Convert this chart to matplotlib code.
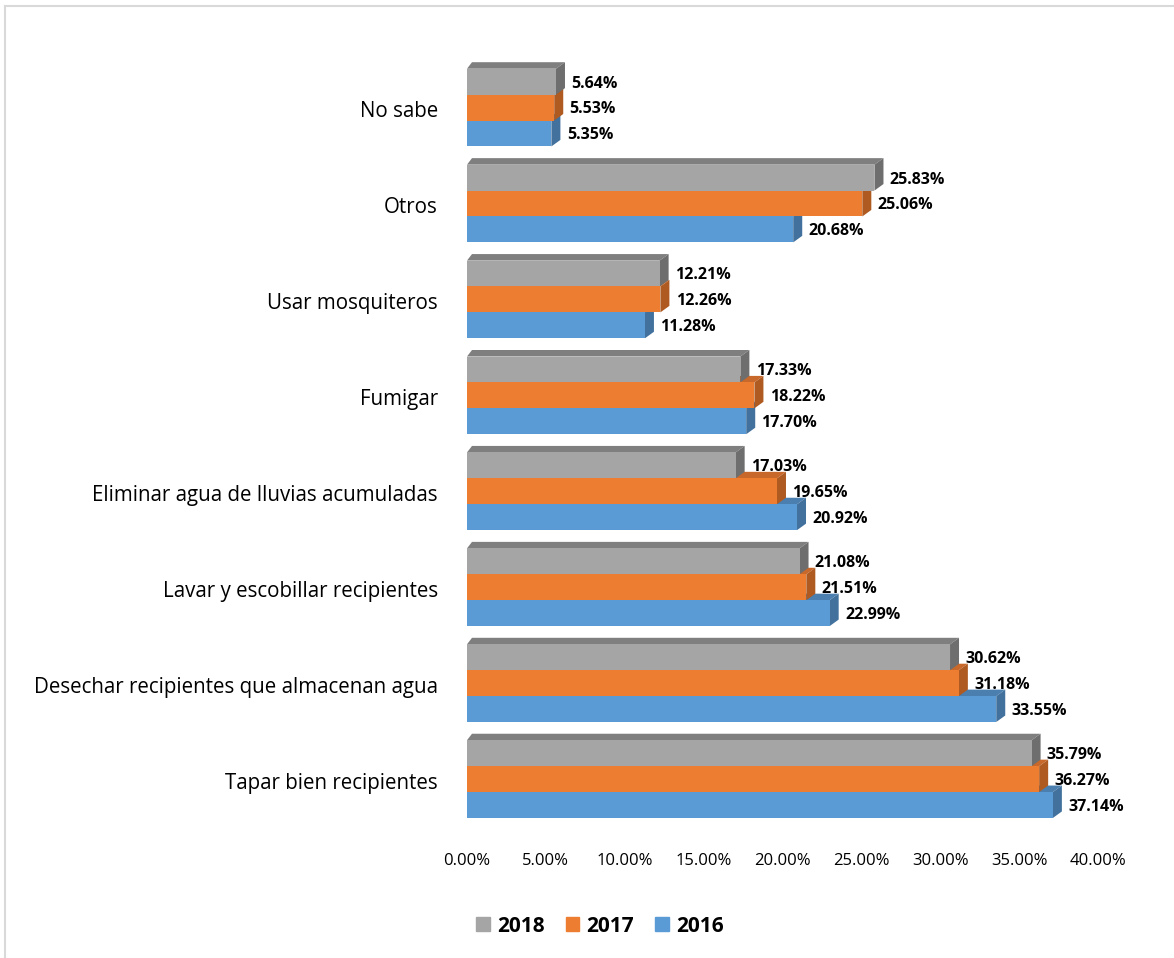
import matplotlib.pyplot as plt
from matplotlib.patches import Polygon
from matplotlib.lines import Line2D

categories = ['Tapar bien recipientes',
              'Desechar recipientes que almacenan agua',
              'Lavar y escobillar recipientes',
              'Eliminar agua de lluvias acumuladas',
              'Fumigar',
              'Usar mosquiteros',
              'Otros',
              'No sabe']
vals_2016 = [37.14, 33.55, 22.99, 20.92, 17.70, 11.28, 20.68, 5.35]
vals_2017 = [36.27, 31.18, 21.51, 19.65, 18.22, 12.26, 25.06, 5.53]
vals_2018 = [35.79, 30.62, 21.08, 17.03, 17.33, 12.21, 25.83, 5.64]
xticks = [0, 5, 10, 15, 20, 25, 30, 35, 40]

plt.rcParams['font.family'] = ['Open Sans', 'DejaVu Sans']

fig = plt.figure(figsize=(11.74, 9.58), dpi=100)
ax = fig.add_axes([467 / 1174, 1 - 845 / 958, (1098 - 467) / 1174, (845 - 50) / 958])
ax.set_xlim(0, 40)
ax.set_ylim(-0.667, 7.62)

# pixel -> data scale for the fake 3D depth
px_x = 40 / (1098 - 467)
px_y = 1 / 95.9
dx = 9 * px_x
dy = 6.5 * px_y
lx = 5 * px_x
h = 0.27

series = [
    (vals_2016, -h, '#5B9BD5', '#4A7FB0', '#41719C', '2016'),
    (vals_2017, 0.0, '#ED7D31', '#C8682A', '#AE5A21', '2017'),
    (vals_2018, h, '#A5A5A5', '#7F7F7F', '#6E6E6E', '2018'),
]

# draw bottom series first so the bar above hides its top face
for vals, off, front, top, side, lab in series:
    for i, v in enumerate(vals):
        yc = i + off + 0.02
        y0 = yc - h / 2
        y1 = yc + h / 2
        ax.add_patch(Polygon([(0, y1), (v, y1), (v + dx, y1 + dy), (lx, y1 + dy)],
                             closed=True, facecolor=top, edgecolor='none', zorder=2 + off))
        ax.add_patch(Polygon([(v, y0), (v + dx, y0 + dy), (v + dx, y1 + dy), (v, y1)],
                             closed=True, facecolor=side, edgecolor='none', zorder=2 + off))
        ax.add_patch(Polygon([(0, y0), (v, y0), (v, y1), (0, y1)],
                             closed=True, facecolor=front, edgecolor='none', zorder=3 + off))
        ax.text(v + dx + 0.4, yc - 0.02, '%.2f%%' % v, fontsize=11.5, fontweight='bold',
                va='center', ha='left', color='black', clip_on=False)

ax.set_yticks(range(len(categories)))
ax.set_yticklabels(categories, fontsize=14.8)
ax.set_xticks(xticks)
ax.set_xticklabels(['%.2f%%' % t for t in xticks], fontsize=12)
ax.tick_params(axis='both', length=0)
ax.tick_params(axis='y', pad=21)
ax.tick_params(axis='x', pad=6)
for s in ['top', 'bottom', 'left', 'right']:
    ax.spines[s].set_visible(False)

handles = [plt.Rectangle((0, 0), 1, 1, color=c) for c in ['#A5A5A5', '#ED7D31', '#5B9BD5']]
fig.legend(handles, ['2018', '2017', '2016'], loc='center', bbox_to_anchor=(600 / 1174, 1 - 926 / 958),
           ncol=3, frameon=False, prop={'weight': 'bold', 'size': 15},
           handlelength=0.65, handleheight=0.65, handletextpad=0.35, columnspacing=1.0)

# light chart border (top and left visible)
fig.add_artist(Line2D([5 / 1174, 1], [1 - 6 / 958, 1 - 6 / 958], color='#D9D9D9', lw=1.5))
fig.add_artist(Line2D([5 / 1174, 5 / 1174], [0, 1 - 6 / 958], color='#D9D9D9', lw=1.5))

fig.savefig('out.png', dpi=100)
